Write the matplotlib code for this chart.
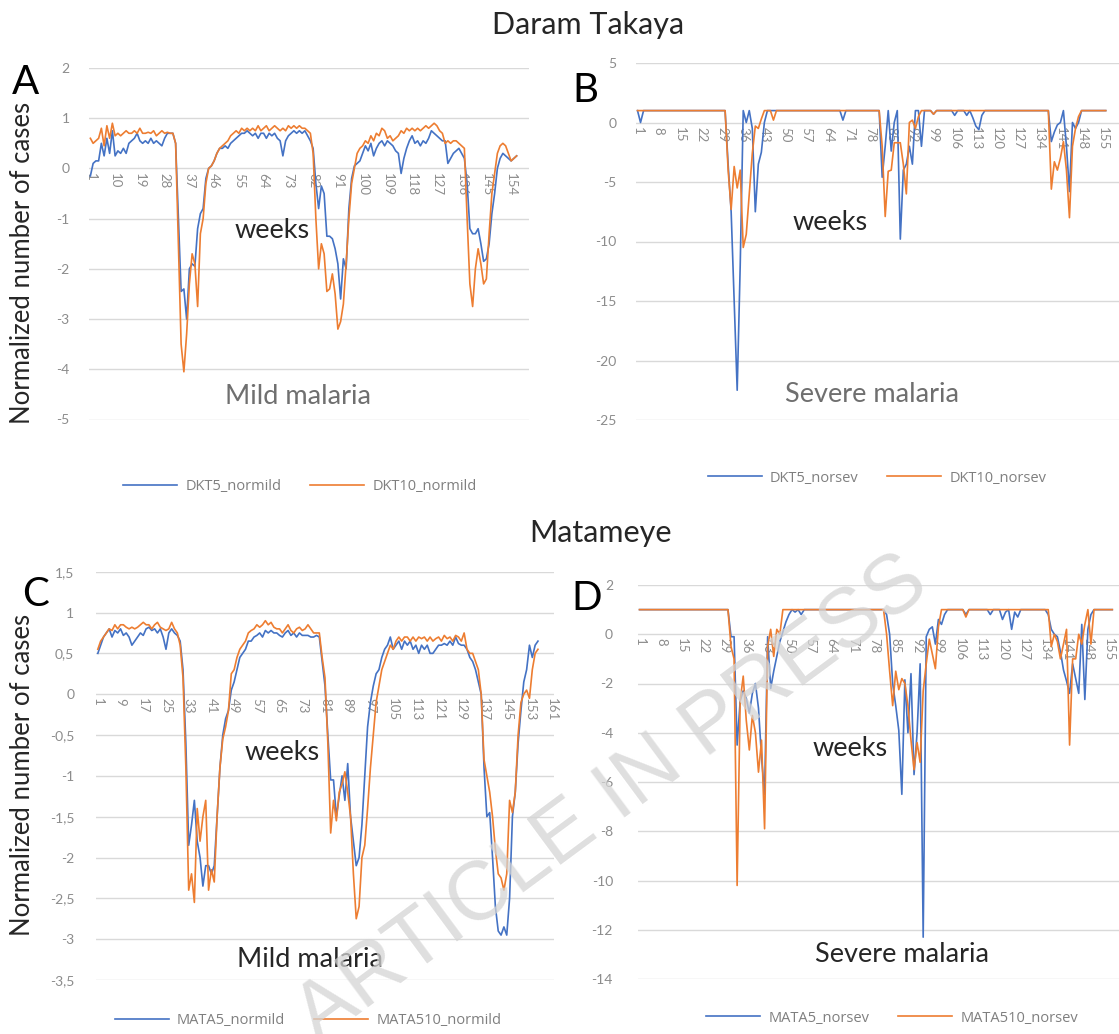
import numpy as np
import matplotlib
matplotlib.use('Agg')
import matplotlib.pyplot as plt

# ---------------- data (weekly normalized case counts) ----------------
dkt5_normild = [
    -0.15, 0.1, 0.15, 0.15, 0.5, 0.25, 0.6, 0.3, 0.75, 0.25,
    0.35, 0.3, 0.4, 0.3, 0.5, 0.55, 0.6, 0.7, 0.55, 0.5,
    0.55, 0.5, 0.6, 0.5, 0.55, 0.5, 0.45, 0.6, 0.7, 0.7,
    0.7, 0.5, -1.0, -2.45, -2.4, -3.0, -2.0, -1.9, -1.95, -1.2,
    -0.9, -0.8, -0.2, 0.0, 0.05, 0.15, 0.3,
    0.4, 0.4, 0.45, 0.4, 0.5, 0.55, 0.6, 0.65, 0.7, 0.7,
    0.75, 0.7, 0.65, 0.7, 0.6, 0.7, 0.7, 0.6, 0.7, 0.65,
    0.7, 0.6, 0.55, 0.25, 0.55, 0.65, 0.7, 0.75, 0.7, 0.75,
    0.7, 0.75,
    0.65, 0.55, 0.4, -0.3, -0.8, -0.35, -0.5, -1.35, -1.35, -1.4,
    -1.6, -1.9, -2.6, -1.8, -2.0, -0.8, -0.2, 0.05,
    0.1, 0.15, 0.3, 0.45, 0.35, 0.5, 0.25, 0.4, 0.5, 0.55,
    0.45, 0.55, 0.5, 0.45, 0.35, 0.3, -0.1, 0.2, 0.4, 0.55,
    0.65, 0.5, 0.55, 0.45, 0.55, 0.5, 0.6, 0.75, 0.7, 0.65,
    0.6, 0.55, 0.55, 0.1, 0.2, 0.3, 0.35, 0.4, 0.3,
    0.2, -0.3, -1.2, -1.3, -1.3, -1.2, -1.5, -1.85, -1.8, -1.5,
    -0.9, -0.5, 0.0, 0.2, 0.3, 0.25, 0.2, 0.15, 0.2, 0.25,
]
dkt10_normild = [
    0.6, 0.5, 0.55, 0.6, 0.8, 0.45, 0.85, 0.6, 0.9, 0.65,
    0.7, 0.65, 0.7, 0.75, 0.7, 0.7, 0.75, 0.7, 0.8, 0.7,
    0.7, 0.72, 0.7, 0.75, 0.65, 0.7, 0.75, 0.7, 0.72, 0.7,
    0.7, 0.5, -1.5, -3.5, -4.05, -3.3, -2.3, -1.7, -1.9, -2.75,
    -1.3, -1.0, -0.3, 0.0, 0.05, 0.15, 0.3,
    0.4, 0.45, 0.5, 0.55, 0.65, 0.7, 0.75, 0.7, 0.8, 0.75,
    0.8, 0.75, 0.8, 0.75, 0.85, 0.75, 0.8, 0.85, 0.75, 0.8,
    0.85, 0.8, 0.75, 0.8, 0.75, 0.85, 0.8, 0.85, 0.8, 0.85,
    0.8, 0.8,
    0.75, 0.7, 0.3, -1.0, -2.0, -1.5, -1.7, -2.45, -2.4, -2.1,
    -2.5, -3.2, -3.05, -2.7, -1.9, -1.0, -0.3, 0.0,
    0.3, 0.4, 0.45, 0.55, 0.5, 0.65, 0.55, 0.7, 0.65, 0.8,
    0.75, 0.6, 0.65, 0.55, 0.6, 0.65, 0.75, 0.7, 0.8, 0.75,
    0.8, 0.75, 0.8, 0.75, 0.8, 0.85, 0.8, 0.85, 0.9, 0.85,
    0.75, 0.7, 0.5, 0.55, 0.5, 0.55, 0.55, 0.5, 0.45,
    0.4, -1.0, -2.3, -2.75, -2.0, -1.6, -1.9, -2.3, -2.2, -1.3,
    -0.5, -0.1, 0.3, 0.45, 0.5, 0.45, 0.3, 0.15, 0.2, 0.25,
]

dkt5_norsev = [
    1, 0, 1, 1, 1, 1, 1, 1, 1, 1,
    1, 1, 1, 1, 1, 1, 1, 1, 1, 1,
    1, 1, 1, 1, 1, 1, 1, 1, 1, 1,
    -3.5, -7.5, -15, -22.5, -12, 1, 0, 1, -0.5, -7.5,
    -3.5, -2.5, 0, 1, 1, 1, 1, 1, 1, 1,
    1, 1, 1, 1, 1, 1, 1, 1, 1, 1,
    1, 1, 1, 1, 1, 1, 1, 1, 0.2, 1,
    1, 1, 1, 1, 1, 1, 1, 1, 1, 1,
    1, -4.6, -2, 1, -2.4, 0, 1, -9.8, -4, -3.5,
    -2, -3.5, 1, 1, -2, 1, 1, 1, 0.7, 1,
    1, 1, 1, 1, 1, 0.6, 1, 1, 1, 0.6,
    1, 0.4, -0.3, -0.6, 0.6, 1, 1, 1, 1, 1,
    1, 1, 1, 1, 1, 1, 1, 1, 1, 1,
    1, 1, 1, 1, 1, 1, 1, -1.6, -0.8, -0.2,
    0, 1, -2, -5.8, 0, -0.5, 0, 1, 1, 1,
    1, 1, 1, 1, 1, 1,
]
dkt10_norsev = [
    1, 1, 1, 1, 1, 1, 1, 1, 1, 1,
    1, 1, 1, 1, 1, 1, 1, 1, 1, 1,
    1, 1, 1, 1, 1, 1, 1, 1, 1, 1,
    -4, -7.3, -3.7, -5.5, -4, -10.5, -9.4, -6, -2.6, -0.3,
    -0.5, 0.3, 1, 1, 1, 0.2, 1, 1, 1, 1,
    1, 1, 1, 1, 1, 1, 1, 1, 1, 1,
    1, 1, 1, 1, 1, 1, 1, 1, 1, 1,
    1, 1, 1, 1, 1, 1, 1, 1, 1, 1,
    1, -2, -7.9, -4.1, -4, -1.7, -1.7, -1.7, -3.5, -6,
    0, 0.2, -0.5, 0.5, 1, 1, 1, 1, 0.7, 1,
    1, 1, 1, 1, 1, 1, 1, 1, 1, 1,
    1, 1, 1, 1, 1, 1, 1, 1, 1, 1,
    1, 1, 1, 1, 1, 1, 1, 1, 1, 1,
    1, 1, 1, 1, 1, 1, 1, -5.6, -3.3, -4,
    -3, -1.6, -4, -8, -2, -0.5, 0.5, 1, 1, 1,
    1, 1, 1, 1, 1, 1,
]

mata5_normild = [
    0.5, 0.6, 0.7, 0.75, 0.8, 0.7, 0.78, 0.75, 0.8, 0.72,
    0.75, 0.7, 0.6, 0.65, 0.7, 0.75, 0.72, 0.8, 0.82, 0.78,
    0.8, 0.75, 0.8, 0.7, 0.55, 0.75, 0.8, 0.75, 0.72,
    0.65, 0.3, -0.6, -1.85, -1.6, -1.3, -1.8, -2.0, -2.35, -2.1,
    -2.1, -2.2, -2.1, -1.5, -0.9, -0.5, -0.3, -0.2, 0.05, 0.15,
    0.3, 0.45, 0.5, 0.55, 0.65, 0.65, 0.7,
    0.72, 0.75, 0.7, 0.78, 0.75, 0.78, 0.75, 0.75, 0.72, 0.7,
    0.75, 0.78, 0.72, 0.75, 0.7, 0.75, 0.72, 0.72, 0.72, 0.7,
    0.7, 0.72, 0.7,
    0.4, 0.1, -0.5, -1.05, -1.05, -1.5, -1.25, -1.0, -1.3, -0.85,
    -1.5, -1.8, -2.1, -2.0, -1.6, -1.0, -0.4, -0.1, 0.1, 0.25,
    0.3, 0.45, 0.55, 0.6, 0.7, 0.55,
    0.6, 0.65, 0.55, 0.65, 0.6, 0.65, 0.55, 0.6, 0.5, 0.6,
    0.55, 0.6, 0.5, 0.5, 0.55, 0.6, 0.6, 0.62, 0.6, 0.65,
    0.6, 0.7, 0.62, 0.6, 0.6,
    0.55, 0.45, 0.4, 0.3, 0.15, 0.0, -0.9, -1.5, -1.45, -2.0,
    -2.6, -2.9, -2.95, -2.85, -2.95, -2.5, -1.5, -1.2, -0.6, -0.2,
    0.15, 0.3, 0.6, 0.45, 0.6, 0.65,
]
mata510_normild = [
    0.55, 0.65, 0.7, 0.75, 0.8, 0.78, 0.85, 0.8, 0.85, 0.85,
    0.82, 0.8, 0.82, 0.8, 0.82, 0.85, 0.88, 0.85, 0.85, 0.8,
    0.85, 0.88, 0.82, 0.8, 0.78, 0.8, 0.88, 0.8, 0.75,
    0.6, 0.2, -0.9, -2.4, -2.2, -2.55, -1.4, -1.8, -1.5, -1.3,
    -2.4, -2.15, -2.3, -1.5, -0.9, -0.55, -0.4, -0.2, 0.25, 0.3,
    0.45, 0.55, 0.6, 0.65, 0.75, 0.78, 0.8,
    0.85, 0.82, 0.85, 0.9, 0.85, 0.88, 0.82, 0.8, 0.8, 0.75,
    0.8, 0.85, 0.78, 0.75, 0.8, 0.82, 0.78, 0.8, 0.85, 0.8,
    0.75, 0.75, 0.75,
    0.45, 0.2, -0.6, -1.7, -1.3, -1.55, -1.2, -1.1, -0.95, -1.2,
    -1.5, -2.2, -2.75, -2.6, -2.0, -1.85, -1.4, -0.9, -0.5, -0.1,
    0.1, 0.3, 0.4, 0.5, 0.6, 0.55,
    0.65, 0.7, 0.65, 0.7, 0.7, 0.65, 0.7, 0.65, 0.7, 0.68,
    0.7, 0.65, 0.7, 0.65, 0.68, 0.7, 0.65, 0.72, 0.68, 0.7,
    0.65, 0.72, 0.7, 0.65, 0.75,
    0.55, 0.5, 0.5, 0.4, 0.3, 0.0, -0.8, -1.0, -1.2, -1.5,
    -1.9, -2.2, -2.25, -2.4, -2.2, -1.3, -1.45, -1.2, -0.5, -0.1,
    0.0, 0.05, -0.05, 0.3, 0.5, 0.55,
]

mata5_norsev = [
    1, 1, 1, 1, 1, 1, 1, 1, 1, 1,
    1, 1, 1, 1, 1, 1, 1, 1, 1, 1,
    1, 1, 1, 1, 1, 1, 1, 1, 1,
    1, -0.1, -0.1, -4.5, -2.7, -2.3, -2.6, -3.2, -2.4, -2.0,
    -3.0, -5.0, -6.5, -0.1, -2.2, -1.5, -0.9, -0.3, 0.1, 0.5,
    0.8, 1, 0.9, 1, 0.8, 1,
    1, 1, 1, 1, 1, 1, 1, 1, 1, 1,
    1, 1, 1, 1, 1, 1, 1, 1, 1, 1,
    1, 1, 1, 1, 1,
    1, 0.8, 0, -2.0, -2.9, -3.9, -6.5, -1.85, -4.0, -1.6,
    -5.7, -4.0, -1.2, -12.3, -0.1, 0.2, 0.3, -0.4, 0.6, 0.4,
    0.8,
    1, 1, 1, 1, 1, 1, 0.8, 1, 1, 1,
    1, 1, 1, 1, 0.8, 1, 1, 1, 0.6, 0.9,
    1, 0.2, 0.9, 0.7, 1, 1, 1, 1, 1, 1,
    1, 1,
    1, 0.8, 0.2, 0, -0.1, -0.7, -1.45, -1.9, -2.4, -1.2,
    -1.8, -2.4, 0.4, -2.65, 0.2, 0.8, 1, 1, 1, 1,
    1, 1, 1,
]
mata510_norsev = [
    1, 1, 1, 1, 1, 1, 1, 1, 1, 1,
    1, 1, 1, 1, 1, 1, 1, 1, 1, 1,
    1, 1, 1, 1, 1, 1, 1, 1, 1,
    1, -0.5, -1.0, -10.2, -2.7, -1.7, -3.5, -4.7, -3.3, -4.0,
    -5.6, -4.3, -7.9, -0.5, 0.2, -0.9, 0.2, 0.0, 1, 1,
    1, 1, 1, 1, 1, 1,
    1, 1, 1, 1, 1, 1, 1, 1, 1, 1,
    1, 1, 1, 1, 1, 1, 1, 1, 1, 1,
    1, 1, 1, 1, 1,
    1, 0, -1.5, -2.9, -1.5, -2.25, -1.8, -2.0, -2.9, -4.3,
    -5.5, -4.4, -5.2, -2.3, -1.2, -0.2, -0.8, -1.4, 0.3, 1,
    1,
    1, 1, 1, 1, 1, 1, 0.7, 1, 1, 1,
    1, 1, 1, 1, 1, 1, 1, 1, 1, 1,
    1, 1, 1, 1, 1, 1, 1, 1, 1, 1,
    1, 1,
    1, 1, -0.5, 0, -0.3, -1.0, -0.4, 0.2, -4.5, -1.0,
    -1.0, 0, -0.4, 0.4, 1, -0.4, 1, 1, 1, 1,
    1, 1, 1,
]

a_ticks = list(range(1, 155, 9))
b_ticks = list(range(1, 156, 7))
c_ticks = list(range(1, 162, 8))
d_ticks = list(range(1, 156, 7))

a_yticks = [2, 1, 0, -1, -2, -3, -4, -5]
b_yticks = [5, 0, -5, -10, -15, -20, -25]
c_yticks = [1.5, 1, 0.5, 0, -0.5, -1, -1.5, -2, -2.5, -3, -3.5]
d_yticks = [2, 0, -2, -4, -6, -8, -10, -12, -14]

# ---------------- figure ----------------
W, H = 1119, 1034
fig = plt.figure(figsize=(W / 100, H / 100), dpi=100)
FONT = 'Lato'
BLUE = '#4472C4'
ORANGE = '#ED7D31'
TICKC = '#8c8c8c'
TXT = '#262626'


def add_ax(l, r, t, b):
    return fig.add_axes([l / W, 1 - b / H, (r - l) / W, (b - t) / H])


def fmt_comma(v):
    return ('%g' % v).replace('.', ',')


def setup(ax, y5, y10, ylim, yt, ytl, xlim, xt, ypad):
    x5 = np.arange(1, len(y5) + 1)
    x10 = np.arange(1, len(y10) + 1)
    l1, = ax.plot(x5, y5, color=BLUE, lw=1.2, zorder=3)
    l2, = ax.plot(x10, y10, color=ORANGE, lw=1.2, zorder=4)
    ax.set_xlim(*xlim)
    ax.set_ylim(*ylim)
    ax.grid(axis='y', color='#d9d9d9', lw=1.0)
    ax.set_axisbelow(True)
    for s in ['top', 'right', 'left']:
        ax.spines[s].set_visible(False)
    ax.spines['bottom'].set_position(('data', 0))
    ax.spines['bottom'].set_color('none')
    ax.tick_params(axis='both', length=0)
    ax.tick_params(axis='y', pad=ypad)
    ax.tick_params(axis='x', pad=3, labelrotation=-90)
    ax.set_yticks(yt)
    ax.set_yticklabels(ytl, family=FONT, fontsize=10, color=TICKC)
    ax.set_xticks(xt)
    ax.set_xticklabels([str(t) for t in xt], family=FONT, fontsize=9.5,
                       color=TICKC, rotation=-90, va='top', ha='center')
    ax.patch.set_alpha(0)
    return l1, l2


def legend(handles, labels, cx, cy):
    fig.legend(handles, labels, loc='center', bbox_to_anchor=(cx / W, 1 - cy / H),
               ncol=2, frameon=False, prop={'family': 'Open Sans', 'size': 10.5},
               labelcolor='#7f7f7f', handlelength=3.7, handletextpad=0.55,
               columnspacing=2.0)


def note(ax, l, r, t, b, x, y, s, color):
    ax.text((x - l) / (r - l), 1 - (y - t) / (b - t), s, transform=ax.transAxes,
            ha='center', va='center', family=FONT, fontsize=19.5, color=color)


# Panel A
A = (89, 529, 68, 419.5)
axA = add_ax(*A)
h = setup(axA, dkt5_normild, dkt10_normild, (-5, 2), a_yticks,
          [('%g' % v) for v in a_yticks], (0.5, 160.5), a_ticks, 14)
legend(h, ['DKT5_normild', 'DKT10_normild'], 300, 487)
note(axA, *A, 272, 231, 'weeks', TXT)
note(axA, *A, 298, 396, 'Mild malaria', '#6f6f6f')

# Panel B
B = (636, 1119, 63, 420)
axB = add_ax(*B)
h = setup(axB, dkt5_norsev, dkt10_norsev, (-25, 5), b_yticks,
          [('%g' % v) for v in b_yticks], (0.5, 160.4), b_ticks, 14)
legend(h, ['DKT5_norsev', 'DKT10_norsev'], 877, 478)
note(axB, *B, 830, 223, 'weeks', TXT)
note(axB, *B, 872, 394, 'Severe malaria', '#6f6f6f')

# Panel C
C = (96.4, 553.6, 571.7, 980)
axC = add_ax(*C)
h = setup(axC, mata5_normild, mata510_normild, (-3.5, 1.5), c_yticks,
          [fmt_comma(v) for v in c_yticks], (0.5, 161.5), c_ticks, 16)
legend(h, ['MATA5_normild', 'MATA510_normild'], 308, 1021)
note(axC, *C, 282, 752, 'weeks', TXT)
note(axC, *C, 310, 960, 'Mild malaria', TXT)

# Panel D
D = (638, 1119, 585, 979)
axD = add_ax(*D)
h = setup(axD, mata5_norsev, mata510_norsev, (-14, 2), d_yticks,
          [('%g' % v) for v in d_yticks], (0.5, 158.2), d_ticks, 18)
legend(h, ['MATA5_norsev', 'MATA510_norsev'], 892, 1018)
note(axD, *D, 850, 748, 'weeks', TXT)
note(axD, *D, 902, 955, 'Severe malaria', TXT)

# Titles, panel letters, y labels
fig.text(588 / W, 1 - 25 / H, 'Daram Takaya', ha='center', va='center', family=FONT,
         fontsize=22, color=TXT)
fig.text(600 / W, 1 - 533 / H, 'Matameye', ha='center', va='center', family=FONT,
         fontsize=22, color=TXT)
for letter, x, y in [('A', 25, 83), ('B', 585, 91), ('C', 36, 595), ('D', 587, 598)]:
    fig.text(x / W, 1 - y / H, letter, ha='center', va='center', family=FONT,
             fontsize=29, color='black')
for y in [263, 775]:
    fig.text(23 / W, 1 - y / H, 'Normalized number of cases', rotation=90, ha='center',
             va='center', family=FONT, fontsize=18.5, color=TXT)

# Watermark
fig.text(612 / W, 1 - 800 / H, 'ARTICLE IN PRESS', rotation=36.5, ha='center', va='center',
         family='Liberation Sans', fontsize=60, color='#d4d4d4', alpha=0.75, zorder=20)

fig.savefig('out.png', dpi=100)
